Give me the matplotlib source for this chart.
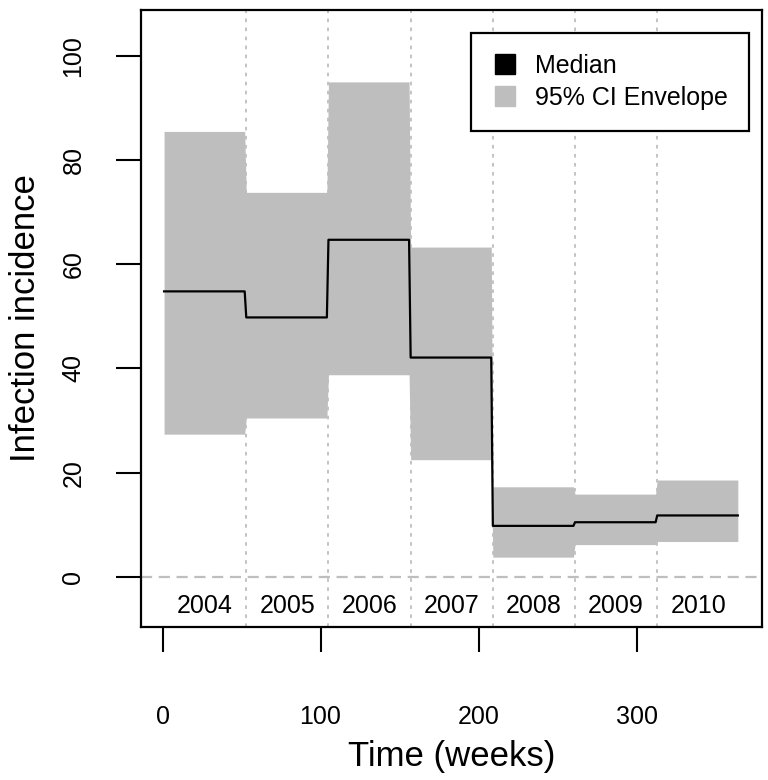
import numpy as np
import matplotlib
matplotlib.use("Agg")
import matplotlib.pyplot as plt
from matplotlib.lines import Line2D

plt.rcParams["font.family"] = ["Liberation Sans", "DejaVu Sans"]

# yearly summaries (constant within each year)
years = ["2004", "2005", "2006", "2007", "2008", "2009", "2010"]
median = [54.8, 49.8, 64.7, 42.1, 9.8, 10.5, 11.8]
ci_upper = [85.5, 73.8, 95.0, 63.3, 17.3, 15.9, 18.6]
ci_lower = [27.4, 30.5, 38.8, 22.5, 3.8, 6.2, 6.8]
WEEKS_PER_YEAR = 52

GREY = "#BEBEBE"

n_years = len(years)
weeks = np.arange(1, n_years * WEEKS_PER_YEAR + 1)
med_w = np.repeat(median, WEEKS_PER_YEAR)
up_w = np.repeat(ci_upper, WEEKS_PER_YEAR)
lo_w = np.repeat(ci_lower, WEEKS_PER_YEAR)

fig = plt.figure(figsize=(7.68, 7.80), dpi=100)
ax = fig.add_axes([0.1836, 0.1962, 0.8086, 0.791])

ax.fill_between(weeks, lo_w, up_w, color=GREY, linewidth=0, zorder=1)
ax.plot(weeks, med_w, color="black", linewidth=1.6, zorder=3)

# year boundaries and zero line
for k in range(1, n_years):
    ax.axvline(k * WEEKS_PER_YEAR + 1, color=GREY, linestyle=(0, (2, 3)),
               linewidth=1.3, zorder=2)
ax.axhline(0, color=GREY, linestyle=(0, (5, 3)), linewidth=1.6, zorder=2)

for k, yr in enumerate(years):
    ax.text(k * WEEKS_PER_YEAR + WEEKS_PER_YEAR / 2 + 1, -5.5, yr,
            ha="center", va="center", fontsize=18)

ax.set_xlim(-13.6, 379.3)
ax.set_ylim(-9.6, 108.8)
ax.set_xticks([0, 100, 200, 300])
ax.set_yticks([0, 20, 40, 60, 80, 100])
ax.tick_params(axis="x", length=18, width=1.5, pad=38, labelsize=18)
ax.tick_params(axis="y", length=18, width=1.5, pad=22, labelsize=18,
               labelrotation=90)
for lab in ax.get_yticklabels():
    lab.set_va("center")
for s in ax.spines.values():
    s.set_linewidth(1.6)

ax.set_xlabel("Time (weeks)", fontsize=25, labelpad=8)
ax.set_ylabel("Infection incidence", fontsize=25, labelpad=14)

handles = [
    Line2D([], [], marker="s", linestyle="none", markersize=14,
           markerfacecolor="black", markeredgecolor="black"),
    Line2D([], [], marker="s", linestyle="none", markersize=14,
           markerfacecolor=GREY, markeredgecolor=GREY),
]
leg = ax.legend(handles, ["Median", "95% CI Envelope"], loc="upper right",
                bbox_to_anchor=(0.979, 0.963), fontsize=18, fancybox=False,
                framealpha=1, edgecolor="black", handlelength=1.0,
                handletextpad=0.7, borderpad=0.85, labelspacing=0.3,
                borderaxespad=0)
leg.get_frame().set_linewidth(1.6)

fig.savefig("out.png", dpi=100)
